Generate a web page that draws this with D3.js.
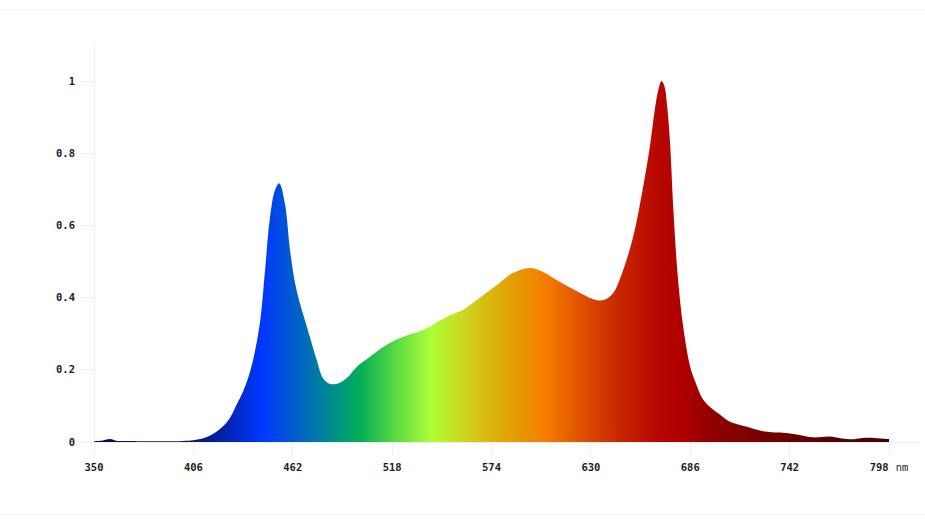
<!DOCTYPE html>
<html>
<head>
<meta charset="utf-8">
<script src="https://cdn.jsdelivr.net/npm/d3@7"></script>
<style>
  html, body { margin: 0; padding: 0; background: #fff; }
  svg { display: block; }
</style>
</head>
<body>
<svg id="chart" width="925" height="527"></svg>
<script>
// ---- data ----
const wavelengths = [350, 355, 359, 363, 370, 380, 390, 400, 406, 412, 417, 423, 427, 430.5, 434, 437, 440, 443.5, 446.4, 449, 452, 454.4, 457.6, 460.5, 463.3, 466, 469, 471.7, 475.5, 479, 482, 484.7, 488, 492.5, 498, 505.5, 513, 522.4, 535.4, 548.8, 558, 567.5, 577, 586, 595.7, 603, 612.6, 623.9, 633.4, 638, 642.5, 647, 653.8, 659.4, 663.3, 666, 668, 669.8, 671.5, 673, 674.6, 676.5, 679, 682, 686, 689, 693.4, 699, 703, 708.4, 718, 727, 736.6, 746, 755, 764.8, 770, 776, 785.6, 793, 798];
const intensity   = [0.002, 0.004, 0.008, 0.003, 0.003, 0.002, 0.002, 0.003, 0.005, 0.011, 0.022, 0.045, 0.07, 0.105, 0.14, 0.18, 0.235, 0.33, 0.476, 0.615, 0.698, 0.717, 0.66, 0.53, 0.44, 0.385, 0.335, 0.29, 0.227, 0.177, 0.163, 0.16, 0.163, 0.177, 0.208, 0.236, 0.263, 0.288, 0.31, 0.347, 0.366, 0.4, 0.435, 0.468, 0.482, 0.471, 0.443, 0.413, 0.393, 0.395, 0.412, 0.46, 0.568, 0.706, 0.82, 0.92, 0.975, 1.0, 0.985, 0.93, 0.83, 0.643, 0.457, 0.32, 0.208, 0.165, 0.116, 0.089, 0.075, 0.056, 0.042, 0.030, 0.026, 0.021, 0.013, 0.015, 0.011, 0.0075, 0.012, 0.010, 0.008];
const xTicks = [350, 406, 462, 518, 574, 630, 686, 742, 798];
const yTicks = [0, 0.2, 0.4, 0.6, 0.8, 1];
const xUnit = "nm";
// spectrum colour stops (wavelength -> colour)
const stopNm    = [350, 400, 420, 445, 460, 475, 490, 500, 520, 540, 560, 580, 605, 625, 645, 665, 680, 700, 740, 798];
const stopColor = ["#0a0a45", "#0a1460", "#0020a0", "#0038ff", "#0058d2", "#0078aa", "#009a78", "#02ad56", "#5ada44", "#acff34", "#cfd21e", "#dfa806", "#f57c00", "#df5000", "#c82800", "#b80a00", "#b00000", "#900000", "#680000", "#420000"];

// ---- layout ----
const svg = d3.select("#chart");
const x = d3.scaleLinear().domain([350, 798]).range([94, 889]);
const y = d3.scaleLinear().domain([0, 1]).range([442, 81]);
const font = "'DejaVu Sans Mono', monospace";

// frame lines
svg.append("line").attr("x1", 0).attr("x2", 925).attr("y1", 9.5).attr("y2", 9.5).attr("stroke", "#f3f3f3");
svg.append("line").attr("x1", 0).attr("x2", 925).attr("y1", 514.5).attr("y2", 514.5).attr("stroke", "#f3f3f3");

// gradient
const defs = svg.append("defs");
const grad = defs.append("linearGradient").attr("id", "spec")
  .attr("gradientUnits", "userSpaceOnUse")
  .attr("x1", x(350)).attr("x2", x(798)).attr("y1", 0).attr("y2", 0);
stopNm.forEach((nm, i) => {
  grad.append("stop").attr("offset", (nm - 350) / (798 - 350)).attr("stop-color", stopColor[i]);
});

// axis / grid lines
const gGrid = svg.append("g").attr("stroke", "#eeeeee").attr("shape-rendering", "crispEdges");
gGrid.append("line").attr("x1", x(350)).attr("x2", x(350)).attr("y1", 45).attr("y2", 455);
gGrid.append("line").attr("x1", x(350)).attr("x2", 920).attr("y1", y(0)).attr("y2", y(0));
yTicks.forEach(t => {
  gGrid.append("line").attr("x1", 81).attr("x2", x(350)).attr("y1", y(t)).attr("y2", y(t));
});
xTicks.forEach(t => {
  gGrid.append("line").attr("x1", x(t)).attr("x2", x(t)).attr("y1", y(0)).attr("y2", 455);
});

// area
const data = wavelengths.map((w, i) => ({ w, v: intensity[i] }));
const area = d3.area()
  .x(d => x(d.w))
  .y0(y(0))
  .y1(d => y(d.v))
  .curve(d3.curveCatmullRom.alpha(0.5));
svg.append("path").datum(data).attr("d", area).attr("fill", "url(#spec)");

// y labels
svg.append("g").selectAll("text").data(yTicks).join("text")
  .attr("x", 75).attr("y", d => y(d) + 3.5)
  .attr("text-anchor", "end")
  .attr("font-family", font).attr("font-weight", "bold").attr("font-size", "10.5px")
  .attr("fill", "#1c1c28")
  .text(d => d3.format("~g")(d));

// x labels (last one carries the unit, centred on its tick)
const xl = svg.append("g").selectAll("text").data(xTicks).join("text")
  .attr("x", d => x(d)).attr("y", 471)
  .attr("text-anchor", "middle")
  .attr("font-family", font).attr("font-size", "10.5px")
  .attr("fill", "#1c1c28");
xl.append("tspan").attr("font-weight", "bold").text(d => d);
xl.filter((d, i) => i === xTicks.length - 1)
  .append("tspan")
  .attr("font-family", "'Liberation Mono', monospace")
  .attr("dx", 7)
  .text(xUnit);
</script>
</body>
</html>
